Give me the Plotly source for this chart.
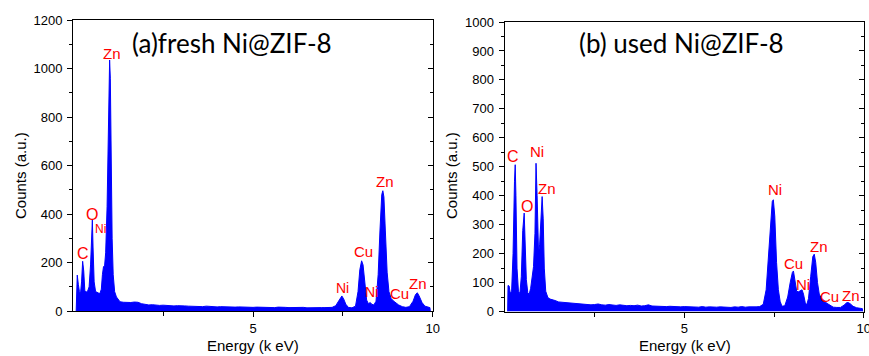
import plotly.graph_objects as go

W, H = 869, 356

# ---------------- data ----------------
fresh_energy = [0.08, 0.09, 0.11, 0.14, 0.17, 0.20, 0.23, 0.26, 0.29, 0.32, 0.36, 0.40, 0.44, 0.48,
                0.51, 0.53, 0.55, 0.58, 0.62, 0.66, 0.70, 0.74, 0.78, 0.81, 0.84, 0.87, 0.90, 0.94,
                0.97, 1.00, 1.01, 1.03, 1.05, 1.08, 1.11, 1.15, 1.20, 1.25,
                1.3, 1.4, 1.5, 1.6, 1.7, 1.8, 1.9, 2.0, 2.1, 2.2, 2.3, 2.4, 2.5, 2.6, 2.7, 2.8, 2.9,
                3.0, 3.1, 3.2, 3.3, 3.4, 3.5, 3.6, 3.7, 3.8, 3.9, 4.0, 4.1, 4.2, 4.3, 4.4, 4.5, 4.6,
                4.7, 4.8, 4.9, 5.0, 5.1, 5.2, 5.3, 5.4, 5.5, 5.6, 5.7, 5.8, 5.9, 6.0, 6.1, 6.2, 6.3,
                6.4, 6.5, 6.6, 6.7, 6.8, 6.9, 7.0, 7.1,
                7.2, 7.3, 7.38, 7.44, 7.47, 7.52, 7.58, 7.65, 7.75, 7.85, 7.92, 7.97, 8.02, 8.06,
                8.11, 8.16, 8.21, 8.26, 8.30, 8.36, 8.42, 8.48, 8.53, 8.58, 8.61, 8.64, 8.68, 8.73,
                8.78, 8.84, 8.90, 8.96, 9.05, 9.15, 9.25, 9.35, 9.45, 9.52, 9.57, 9.62, 9.70, 9.78,
                9.86, 9.92, 9.93]
fresh_counts = [0, 140, 148, 110, 80, 72, 120, 205, 165, 85, 78, 82, 100, 190,
                350, 375, 260, 120, 80, 76, 74, 72, 90, 150, 183, 186, 240, 430,
                720, 980, 1035, 960, 620, 300, 150, 80, 58, 45,
                38, 36, 34, 35, 37, 36, 30, 27, 25, 26, 24, 23, 24, 22, 23, 21, 22,
                20, 21, 20, 19, 21, 19, 18, 20, 18, 19, 17, 18, 17, 19, 17, 16, 17,
                16, 18, 16, 15, 16, 15, 16, 14, 15, 14, 16, 14, 15, 14, 15, 13, 14,
                15, 13, 14, 13, 15, 14, 14, 15,
                15, 22, 40, 58, 62, 50, 28, 15, 13, 20, 80, 170, 207, 190,
                110, 45, 30, 35, 28, 25, 40, 150, 330, 480, 496, 470, 330, 160,
                80, 52, 42, 35, 25, 18, 15, 18, 40, 68, 75, 62, 35, 20,
                15, 14, 0]

used_energy = [0.08, 0.09, 0.12, 0.15, 0.19, 0.23, 0.27, 0.29, 0.31, 0.34, 0.38, 0.42, 0.46, 0.50,
               0.54, 0.57, 0.60, 0.64, 0.68, 0.72, 0.76, 0.80, 0.84, 0.87, 0.90, 0.94, 0.97, 1.01,
               1.04, 1.07, 1.10, 1.14, 1.20, 1.26,
               1.3, 1.4, 1.5, 1.6, 1.7, 1.8, 1.9, 2.0, 2.1, 2.2, 2.3, 2.4, 2.5, 2.6, 2.7, 2.8, 2.9,
               3.0, 3.1, 3.2, 3.3, 3.4, 3.5, 3.6, 3.7, 3.8, 3.9, 4.0, 4.1, 4.2, 4.3, 4.4, 4.5, 4.6,
               4.7, 4.8, 4.9, 5.0, 5.1, 5.2, 5.3, 5.4, 5.5, 5.6, 5.7, 5.8, 5.9, 6.0, 6.1, 6.2, 6.3,
               6.4, 6.5, 6.6, 6.7, 6.8, 6.9, 7.0, 7.1,
               7.2, 7.28, 7.35, 7.41, 7.45, 7.48, 7.52, 7.57, 7.62, 7.67, 7.72, 7.80, 7.88, 7.95,
               8.01, 8.04, 8.08, 8.13, 8.18, 8.24, 8.28, 8.32, 8.37, 8.41, 8.46, 8.52, 8.58, 8.62,
               8.66, 8.71, 8.76, 8.82, 8.88, 8.95, 9.05, 9.15, 9.25, 9.35, 9.45, 9.52, 9.56, 9.62,
               9.70, 9.80, 9.90, 9.96, 9.97]
used_counts = [0, 90, 88, 65, 70, 200, 450, 507, 400, 150, 70, 62, 120, 280,
               340, 250, 110, 65, 60, 80, 118, 155, 270, 512, 400, 200, 230, 340,
               397, 320, 150, 70, 48, 43,
               42, 38, 33, 32, 30, 28, 27, 26, 25, 24, 25, 23, 24, 26, 23, 22, 24,
               22, 21, 23, 21, 20, 21, 20, 22, 19, 20, 23, 19, 18, 19, 18, 17, 18,
               17, 18, 16, 17, 16, 17, 16, 15, 17, 15, 16, 15, 15, 16, 15, 15, 14,
               16, 15, 17, 15, 16, 15, 16, 17,
               25, 75, 200, 300, 380, 386, 330, 170, 75, 35, 18, 20, 50, 100,
               135, 140, 110, 70, 68, 72, 75, 60, 30, 23, 45, 120, 190, 198,
               170, 100, 60, 45, 40, 30, 22, 15, 14, 14, 22, 30, 31, 27,
               18, 13, 11, 10, 0]

fresh_label_text = ["C", "O", "Ni", "Zn", "Ni", "Cu", "Ni", "Zn", "Cu", "Zn"]
fresh_label_x = [0.26, 0.52, 0.77, 1.07, 7.49, 8.06, 8.30, 8.67, 9.06, 9.58]
fresh_label_y = [238, 400, 337, 1063, 94, 245, 77, 533, 73, 114]
fresh_label_size = [16, 16, 12, 15, 14, 15, 14, 15, 15, 15]

used_label_text = ["C", "O", "Ni", "Zn", "Ni", "Cu", "Ni", "Zn", "Cu", "Zn"]
used_label_x = [0.23, 0.62, 0.91, 1.17, 7.53, 8.04, 8.32, 8.76, 9.04, 9.64]
used_label_y = [535, 363, 553, 424, 420, 167, 92, 225, 52, 54]
used_label_size = [16, 16, 15, 15, 15, 15, 15, 15, 15, 15]

x_tick_vals = [5, 10]
x_minor_vals = [2.5, 7.5]
fresh_y_ticks = [0, 200, 400, 600, 800, 1000, 1200]
fresh_y_minor = [100, 300, 500, 700, 900, 1100]
used_y_ticks = [0, 100, 200, 300, 400, 500, 600, 700, 800, 900, 1000]
used_y_minor = [50, 150, 250, 350, 450, 550, 650, 750, 850, 950]

titles = ["(a)fresh Ni@ZIF-8", "(b) used Ni@ZIF-8"]

# ---------------- layout geometry ----------------
def px_x(p):
    return p / W

def px_y(p):
    return 1 - p / H

AX_FONT = "Liberation Sans, Arial, sans-serif"
BLUE = "#0000ff"
RED = "#ff0000"

fig = go.Figure()

fig.add_trace(go.Scatter(x=fresh_energy, y=fresh_counts, mode="lines", fill="tozeroy",
                         line=dict(color=BLUE, width=1), fillcolor=BLUE,
                         xaxis="x", yaxis="y", showlegend=False, hoverinfo="skip"))
fig.add_trace(go.Scatter(x=used_energy, y=used_counts, mode="lines", fill="tozeroy",
                         line=dict(color=BLUE, width=1), fillcolor=BLUE,
                         xaxis="x2", yaxis="y2", showlegend=False, hoverinfo="skip"))
# invisible traces to carry the inward right-side tick axes
fig.add_trace(go.Scatter(x=[None], y=[None], xaxis="x", yaxis="y3", showlegend=False, hoverinfo="skip"))
fig.add_trace(go.Scatter(x=[None], y=[None], xaxis="x2", yaxis="y4", showlegend=False, hoverinfo="skip"))

tickfont = dict(family=AX_FONT, size=13, color="black")

def xaxis_cfg(domain, anchor):
    return dict(domain=domain, anchor=anchor, range=[0, 10], showgrid=False, zeroline=False,
                showline=True, linecolor="black", linewidth=1.4, mirror=True,
                ticks="outside", ticklen=5, tickwidth=1, tickcolor="black",
                tickvals=x_tick_vals, ticktext=[str(v) for v in x_tick_vals],
                minor=dict(tickvals=x_minor_vals, ticklen=4, tickwidth=1, tickcolor="black", ticks="outside"),
                tickfont=tickfont, automargin=False, ticklabeloverflow="allow")

def yaxis_cfg(domain, anchor, rng, tv, mv):
    return dict(domain=domain, anchor=anchor, range=rng, showgrid=False, zeroline=False,
                showline=True, linecolor="black", linewidth=1.4, mirror=True,
                ticks="outside", ticklen=5, tickwidth=1, tickcolor="black",
                tickvals=tv, ticktext=[str(v) for v in tv],
                minor=dict(tickvals=mv, ticklen=3, tickwidth=1, tickcolor="black", ticks="outside"),
                tickfont=tickfont, automargin=False, ticklabeloverflow="allow",
                ticklabelstandoff=2)

def yaxis_right_cfg(over, anchor, rng, tv, mv):
    return dict(overlaying=over, anchor=anchor, side="right", range=rng, showgrid=False,
                zeroline=False, showline=False, showticklabels=False,
                ticks="inside", ticklen=5, tickwidth=1, tickcolor="black", tickvals=tv,
                minor=dict(tickvals=mv, ticklen=3, tickwidth=1, tickcolor="black", ticks="inside"))

dom_x1 = [px_x(73.3), px_x(432.8)]
dom_x2 = [px_x(504.8), px_x(863.8)]
dom_y1 = [px_y(311.0), px_y(20.0)]
dom_y2 = [px_y(311.5), px_y(22.0)]

annotations = []
for t, xv, yv, s in zip(fresh_label_text, fresh_label_x, fresh_label_y, fresh_label_size):
    annotations.append(dict(text=t, x=xv, y=yv, xref="x", yref="y", showarrow=False,
                            xanchor="center", yanchor="middle",
                            font=dict(family=AX_FONT, size=s, color=RED)))
for t, xv, yv, s in zip(used_label_text, used_label_x, used_label_y, used_label_size):
    annotations.append(dict(text=t, x=xv, y=yv, xref="x2", yref="y2", showarrow=False,
                            xanchor="center", yanchor="middle",
                            font=dict(family=AX_FONT, size=s, color=RED)))

title_font = dict(family="Lato, Open Sans, sans-serif", size=26, color="black")
annotations.append(dict(text=titles[0], x=px_x(232), y=px_y(43), xref="paper", yref="paper",
                        showarrow=False, xanchor="center", yanchor="middle", font=title_font))
annotations.append(dict(text=titles[1], x=px_x(681), y=px_y(43), xref="paper", yref="paper",
                        showarrow=False, xanchor="center", yanchor="middle", font=title_font))

axis_title_font = dict(family=AX_FONT, size=15, color="black")
for cx in (20, 451):
    annotations.append(dict(text="Counts (a.u.)", x=px_x(cx), y=px_y(176), xref="paper", yref="paper",
                            showarrow=False, textangle=-90, xanchor="center", yanchor="middle",
                            font=axis_title_font))
for cx in (253, 685):
    annotations.append(dict(text="Energy (k eV)", x=px_x(cx), y=px_y(345), xref="paper", yref="paper",
                            showarrow=False, xanchor="center", yanchor="middle", font=axis_title_font))

fig.update_layout(
    width=W, height=H,
    margin=dict(l=0, r=0, t=0, b=0),
    paper_bgcolor="white", plot_bgcolor="white",
    showlegend=False,
    xaxis=xaxis_cfg(dom_x1, "y"),
    yaxis=yaxis_cfg(dom_y1, "x", [0, 1200], fresh_y_ticks, fresh_y_minor),
    xaxis2=xaxis_cfg(dom_x2, "y2"),
    yaxis2=yaxis_cfg(dom_y2, "x2", [0, 1000], used_y_ticks, used_y_minor),
    yaxis3=yaxis_right_cfg("y", "x", [0, 1200], fresh_y_ticks, fresh_y_minor),
    yaxis4=yaxis_right_cfg("y2", "x2", [0, 1000], used_y_ticks, used_y_minor),
    annotations=annotations,
)

fig.write_html("out.html", config={"displayModeBar": False},
               post_script="document.body.style.margin='0';document.body.style.overflow='hidden';")
